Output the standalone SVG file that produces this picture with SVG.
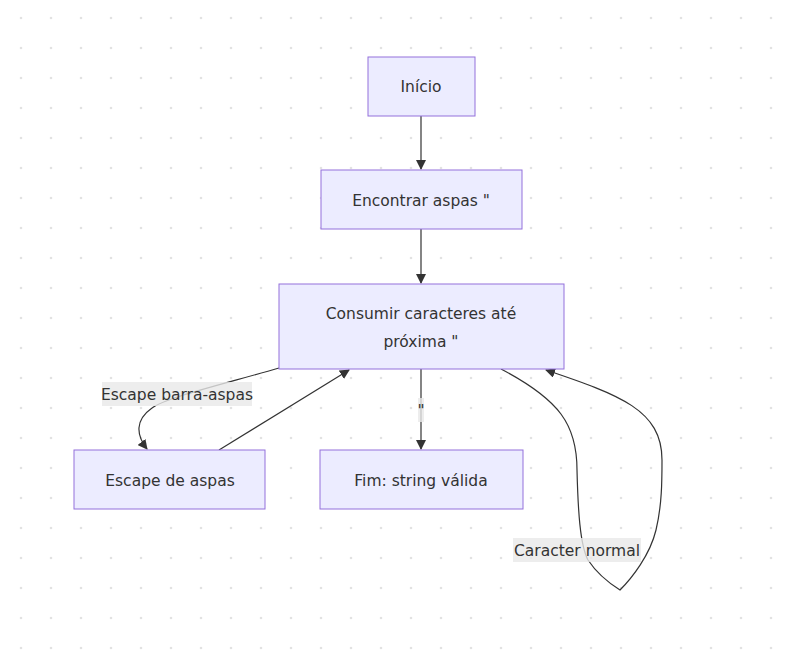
<svg xmlns="http://www.w3.org/2000/svg" width="788" height="656" viewBox="0 0 788 656">
<style>
.node rect{fill:#ECECFF;stroke:#9370DB;stroke-width:1}
.lbl{font-family:"DejaVu Sans","Liberation Sans",Arial,sans-serif;font-size:15.5px;fill:#333;text-anchor:middle;dominant-baseline:central}
.edge{fill:none;stroke:#333;stroke-width:1.2}
.ebg{fill:#e8e8e8;opacity:0.8}
</style>
<defs>
<pattern id="dots" width="30" height="30" patternUnits="userSpaceOnUse">
<circle cx="21" cy="18" r="1.3" fill="#e2e2e2"/>
</pattern>
<marker id="arr" viewBox="0 0 10 10" refX="9" refY="5" markerWidth="10" markerHeight="10" markerUnits="userSpaceOnUse" orient="auto">
<path d="M0,0 L10,5 L0,10 z" fill="#333"/>
</marker>
</defs>
<rect width="788" height="656" fill="#fff"/>
<rect width="788" height="656" fill="url(#dots)"/>
<g id="edges">
<path class="edge" d="M421,116 L421,169" marker-end="url(#arr)"/>
<path class="edge" d="M421,229 L421,283" marker-end="url(#arr)"/>
<path class="edge" d="M421,369 L421,449" marker-end="url(#arr)"/>
<path class="edge" d="M279,368 C220,385 165,398 152,408 C135,420 136,435 147,449" marker-end="url(#arr)"/>
<path class="edge" d="M219,450 L349,370" marker-end="url(#arr)"/>
<path class="edge" d="M501,369 C560,400 577,425 577,470 C578,510 580,545 588,560 C598,575 612,585 620,590 C632,578 650,555 656,530 C662,505 662,480 662,460 C662,410 620,395 546,370" marker-end="url(#arr)"/>
<rect class="ebg" x="102" y="382" width="150" height="24"/>
<text class="lbl" x="177" y="395">Escape barra-aspas</text>
<rect class="ebg" x="418" y="398" width="6" height="24"/>
<text class="lbl" x="421" y="411">"</text>
<rect class="ebg" x="513" y="538" width="128" height="24"/>
<text class="lbl" x="577" y="551">Caracter normal</text>
</g>
<g id="inicio" class="node"><rect x="368" y="57" width="107" height="59"/><text class="lbl" x="421" y="87">Início</text></g>
<g id="encontrar" class="node"><rect x="321" y="170" width="201" height="59"/><text class="lbl" x="421" y="201">Encontrar aspas "</text></g>
<g id="consumir" class="node"><rect x="279" y="284" width="285" height="85"/><text class="lbl" x="421" y="314">Consumir caracteres até</text><text class="lbl" x="421" y="342">próxima "</text></g>
<g id="escape" class="node"><rect x="74" y="450" width="191" height="59"/><text class="lbl" x="170" y="481">Escape de aspas</text></g>
<g id="fim" class="node"><rect x="320" y="450" width="203" height="59"/><text class="lbl" x="421" y="481">Fim: string válida</text></g>
</svg>
